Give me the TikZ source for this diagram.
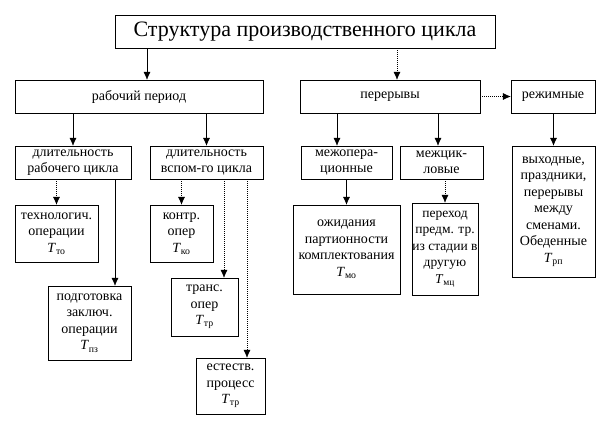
\documentclass[tikz,border=0pt]{standalone}
\usepackage{fontspec}
\setmainfont{Liberation Serif}
\usetikzlibrary{arrows.meta}
\newcommand{\Tsub}[1]{\textit{T}\textsubscript{#1}}

\begin{document}
\begin{tikzpicture}[x=1pt, y=-1pt,
  box/.style={draw, thin, align=center, inner xsep=0.5pt, inner ysep=0pt, font=\fontsize{14}{16.5}\selectfont},
  arr/.style={-{Latex[length=8pt,width=7pt]}, thin},
  darr/.style={arr, dash pattern=on 1pt off 1pt}]
\useasboundingbox (0,0) rectangle (611,432);

% Title
\node[box, minimum width=380, minimum height=33, font=\fontsize{22}{26}\selectfont] (title) at (305,31.5) {Структура производственного цикла};

% Working period
\node[box, minimum width=248, minimum height=33] (rp) at (139,96.5) {рабочий период};
\node[box, minimum width=116, minimum height=33] (dr) at (73,162.5) {длительность\\рабочего цикла};
\node[box, minimum width=113, minimum height=33] (dv) at (206.5,162.5) {длительность\\вспом-го цикла};
\node[box, minimum width=83, minimum height=57] (tech) at (56.5,233.5) {технологич.\\операции\\\Tsub{то}};
\node[box, minimum width=63, minimum height=57] (kontr) at (181.5,233.5) {контр.\\опер\\\Tsub{ко}};
\node[box, minimum width=83, minimum height=74] (pz) at (89.5,323) {подготовка\\заключ.\\операции\\\Tsub{пз}};
\node[box, minimum width=67, minimum height=58] (trans) at (204.5,307) {транс.\\опер\\\Tsub{тр}};
\node[box, minimum width=69, minimum height=56] (est) at (230.5,386) {естеств.\\процесс\\\Tsub{тр}};

% Breaks
\node[box, minimum width=180, minimum height=33] (per) at (390,96.5) {перерывы};
\node[box, minimum width=84, minimum height=33] (rez) at (553,96.5) {режимные};
\node[box, minimum width=91, minimum height=33] (mo) at (346.5,162.5) {межопера-\\ционные};
\node[box, minimum width=83, minimum height=33] (mc) at (441.5,162.5) {межцик-\\ловые};
\node[box, minimum width=107, minimum height=89] (ozh) at (346.5,249.5) {ожидания\\партионности\\комплектования\\\Tsub{мо}};
\node[box, minimum width=64, minimum height=92, font=\fontsize{13.5}{16.5}\selectfont] (perehod) at (445,249) {переход\\предм. тр.\\из стадии в\\другую\\\Tsub{мц}};
\node[box, minimum width=83, minimum height=131] (vyh) at (553.5,211.5) {выходные,\\праздники,\\перерывы\\между\\сменами.\\Обеденные\\\Tsub{рп}};

% Arrows, left
\draw[arr] ([xshift=8]rp.north |- title.south) -- ([xshift=8]rp.north);
\draw[arr] (dr.north |- rp.south) -- (dr.north);
\draw[arr] (dv.north |- rp.south) -- (dv.north);
\draw[darr] (tech.north |- dr.south) -- (tech.north);
\draw[arr] ([xshift=25.5]pz.north |- dr.south) -- ([xshift=25.5]pz.north);
\draw[darr] (kontr.north |- dv.south) -- (kontr.north);
\draw[darr] ([xshift=19.5]trans.north |- dv.south) -- ([xshift=19.5]trans.north);
\draw[darr] ([xshift=16.5]est.north |- dv.south) -- ([xshift=16.5]est.north);

% Arrows, right
\draw[darr] ([xshift=7]per.north |- title.south) -- ([xshift=7]per.north);
\draw[darr] (per.east) -- (rez.west);
\draw[arr] ([xshift=-9.5]mo.north |- per.south) -- ([xshift=-9.5]mo.north);
\draw[arr] ([xshift=-3.5]mc.north |- per.south) -- ([xshift=-3.5]mc.north);
\draw[arr] (ozh.north |- mo.south) -- (ozh.north);
\draw[darr] (perehod.north |- mc.south) -- (perehod.north);
\draw[arr] (vyh.north |- rez.south) -- (vyh.north);
\end{tikzpicture}
\end{document}
